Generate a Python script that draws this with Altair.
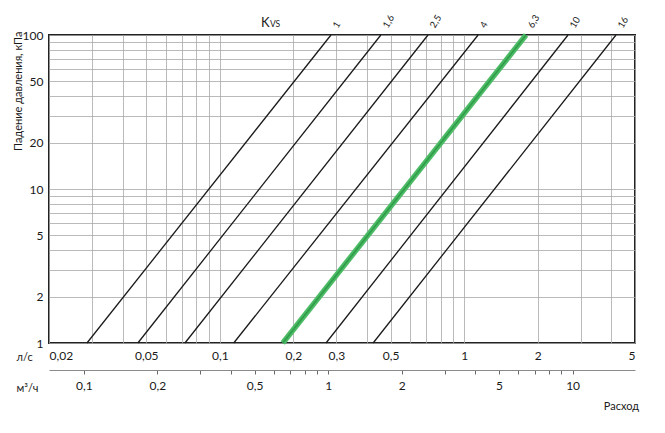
import json
import altair as alt
import pandas as pd

# ---------------- data ----------------
kvs_labels = ["1", "1,6", "2,5", "4", "6,3", "10", "16"]
flow_at_1kpa = [0.0286, 0.0462, 0.072, 0.114, 0.181, 0.272, 0.424]     # l/s at 1 kPa
flow_at_100kpa = [0.285, 0.456, 0.711, 1.14, 1.79, 2.66, 4.18]         # l/s at 100 kPa
dp_low, dp_high = 1, 100
highlight = "6,3"

ls_label_values = [0.02, 0.05, 0.1, 0.2, 0.3, 0.5, 1, 2, 5]
ls_grid_values = [0.02, 0.03, 0.04, 0.05, 0.06, 0.07, 0.08, 0.09, 0.1,
                  0.2, 0.3, 0.4, 0.5, 0.6, 0.7, 0.8, 0.9, 1, 2, 3, 4, 5]
kpa_label_values = [1, 2, 5, 10, 20, 50, 100]
kpa_grid_values = [1, 2, 3, 4, 5, 6, 7, 8, 9, 10, 20, 30, 40, 50, 60, 70, 80, 90, 100]
m3h_label_values = [0.1, 0.2, 0.5, 1, 2, 5, 10]
m3h_tick_values = [0.1, 0.2, 0.3, 0.4, 0.5, 0.6, 0.7, 0.8, 0.9,
                   1, 2, 3, 4, 5, 6, 7, 8, 9, 10]
ls_domain = [0.02, 5]
m3h_domain = [0.072, 18]
kpa_domain = [1, 100]

# ---------------- tables ----------------
rows = []
for lab, lo, hi in zip(kvs_labels, flow_at_1kpa, flow_at_100kpa):
    rows.append({"kvs": lab, "q": lo, "dp": dp_low})
    rows.append({"kvs": lab, "q": hi, "dp": dp_high})
lines_df = pd.DataFrame(rows)
tops_df = pd.DataFrame({"kvs": kvs_labels, "q": flow_at_100kpa, "dp": [dp_high] * len(kvs_labels)})

FONT = "Lato"
DARK = "#1a1a1a"


def label_expr(values):
    arr = json.dumps(values)
    return f"indexof({arr}, datum.value) >= 0 ? replace(toString(datum.value), '.', ',') : ''"


x_enc = alt.X(
    "q:Q",
    scale=alt.Scale(type="log", domain=ls_domain, nice=False),
    axis=alt.Axis(
        values=ls_grid_values,
        labelExpr=label_expr(ls_label_values),
        labelOverlap=False,
        labelFlush=True,
        ticks=False,
        domain=False,
        grid=True,
        gridColor="#a8a8a8",
        gridWidth=0.8,
        labelPadding=7,
        labelFontSize=12,
        labelColor=DARK,
        title="л/с",
        titleFontSize=11,
        titleFontWeight="normal",
        titleColor=DARK,
        titleAngle=0,
        titleAlign="left",
        titleBaseline="middle",
        titleX=-33,
        titleY=14,
    ),
)

y_enc = alt.Y(
    "dp:Q",
    scale=alt.Scale(type="log", domain=kpa_domain, nice=False),
    axis=alt.Axis(
        values=kpa_grid_values,
        labelExpr=label_expr(kpa_label_values),
        labelOverlap=False,
        ticks=False,
        domain=False,
        grid=True,
        gridColor="#a8a8a8",
        gridWidth=0.8,
        labelPadding=6,
        labelFontSize=12,
        labelColor=DARK,
        title="Падение давления, кПа",
        titleFontSize=11,
        titleFontWeight="normal",
        titleColor=DARK,
        titleAngle=270,
        titleAlign="right",
        titleBaseline="middle",
        titleX=-31,
        titleY=-4,
    ),
)

black_lines = (
    alt.Chart(lines_df)
    .transform_filter(alt.datum.kvs != highlight)
    .mark_line(color=DARK, strokeWidth=1.3)
    .encode(x=x_enc, y=y_enc, detail="kvs:N")
)

green_wide = (
    alt.Chart(lines_df)
    .transform_filter(alt.datum.kvs == highlight)
    .mark_line(color="#4dbb65", strokeWidth=5.5)
    .encode(x=x_enc, y=y_enc, detail="kvs:N")
)

green_core = (
    alt.Chart(lines_df)
    .transform_filter(alt.datum.kvs == highlight)
    .mark_line(color="#2f9c4a", strokeWidth=1.6)
    .encode(x=x_enc, y=y_enc, detail="kvs:N")
)

kvs_text = (
    alt.Chart(tops_df)
    .mark_text(angle=300, align="left", baseline="alphabetic", dx=9, dy=3,
               fontSize=9.5, font=FONT, color=DARK)
    .encode(x=x_enc, y=y_enc, text="kvs:N")
)

k_text = (
    alt.Chart(pd.DataFrame({"t": ["K"]}))
    .mark_text(align="left", baseline="alphabetic", fontSize=13, font=FONT, color=DARK)
    .encode(x=alt.value(212), y=alt.value(-8), text="t:N")
)
vs_text = (
    alt.Chart(pd.DataFrame({"t": ["VS"]}))
    .mark_text(align="left", baseline="alphabetic", fontSize=8.5, font=FONT, color=DARK)
    .encode(x=alt.value(221), y=alt.value(-8), text="t:N")
)
flow_text = (
    alt.Chart(pd.DataFrame({"t": ["Расход"]}))
    .mark_text(align="right", baseline="alphabetic", fontSize=11, font=FONT, color=DARK)
    .encode(x=alt.value(590), y=alt.value(375), text="t:N")
)

main = alt.layer(black_lines, green_wide, green_core, kvs_text, k_text, vs_text, flow_text)

m3h_axis_layer = (
    alt.Chart(pd.DataFrame({"m3h": m3h_domain}))
    .mark_point(opacity=0)
    .encode(
        x=alt.X(
            "m3h:Q",
            scale=alt.Scale(type="log", domain=m3h_domain, nice=False),
            axis=alt.Axis(
                orient="bottom",
                offset=27,
                values=m3h_tick_values,
                labelExpr=label_expr(m3h_label_values),
                labelOverlap=False,
                labelFlush=False,
                grid=False,
                domain=True,
                domainColor="#8a8a8a",
                domainWidth=1,
                ticks=True,
                tickColor="#6a6a6a",
                tickSize=4,
                tickWidth=1,
                labelPadding=6,
                labelFontSize=12,
                labelColor=DARK,
                title="м³/ч",
                titleFontSize=11,
                titleFontWeight="normal",
                titleColor=DARK,
                titleAngle=0,
                titleAlign="left",
                titleBaseline="middle",
                titleX=-33,
                titleY=18,
            ),
        )
    )
)

chart = (
    alt.layer(main, m3h_axis_layer)
    .resolve_scale(x="independent")
    .properties(
        width=586,
        height=308,
        autosize=alt.AutoSizeParams(type="none"),
        padding={"left": 41, "top": 27, "right": 22, "bottom": 80},
    )
    .configure(font=FONT)
    .configure_view(stroke="#222222", strokeWidth=2)
)

chart.save("out.html", embed_options={"renderer": "svg", "actions": False})
